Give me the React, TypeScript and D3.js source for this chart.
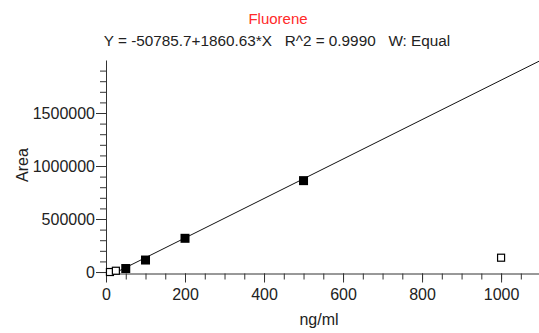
import React, { useEffect, useRef } from 'react';
import { select, scaleLinear, axisBottom, axisLeft, range, line } from 'd3';

// calibration levels (ng/ml) and measured peak areas
const concentrations = [10, 25, 50, 100, 200, 500, 1000];
const areas = [0, 12000, 33000, 113000, 318000, 862000, 135000];
const included = [false, false, true, true, true, true, false];

const intercept = -50785.7;
const slope = 1860.63;

const xMajorTicks = [0, 200, 400, 600, 800, 1000];
const xMinorTicks = range(0, 1100, 50);
const yMajorTicks = [0, 500000, 1000000, 1500000];
const yMinorTicks = range(0, 2000000, 100000);

const title = 'Fluorene';
const subtitle = 'Y = -50785.7+1860.63*X   R^2 = 0.9990   W: Equal';

function App() {
  const svgRef = useRef<SVGSVGElement>(null);
  const width = 539;
  const height = 333;
  const left = 106;
  const right = 539;
  const top = 60;
  const bottom = 273.5;

  useEffect(() => {
    const svg = select(svgRef.current);
    svg.selectAll('*').remove();

    const x = scaleLinear().domain([0, 1096]).range([left, right]);
    const y = scaleLinear().domain([-14000, 2000000]).range([bottom, top]);
    const axisColor = '#333';
    const font = 'Arial, "Liberation Sans", sans-serif';

    svg.append('defs').append('clipPath').attr('id', 'plot')
      .append('rect').attr('x', left).attr('y', top)
      .attr('width', right - left).attr('height', bottom - top);

    // x axis: minor then major
    svg.append('g').attr('transform', `translate(0,${bottom})`)
      .call(axisBottom(x).tickValues(xMinorTicks).tickSize(6).tickFormat(() => ''))
      .call(g => g.select('.domain').remove())
      .selectAll('line').attr('stroke', axisColor);
    const gx = svg.append('g').attr('transform', `translate(0,${bottom})`)
      .call(axisBottom(x).tickValues(xMajorTicks).tickSize(9).tickSizeOuter(0).tickPadding(6).tickFormat(d => String(d)));
    gx.select('.domain').attr('stroke', axisColor);
    gx.selectAll('line').attr('stroke', axisColor);
    gx.selectAll('text').attr('font-family', font).attr('font-size', 16).attr('fill', '#222');

    // y axis
    svg.append('g').attr('transform', `translate(${left},0)`)
      .call(axisLeft(y).tickValues(yMinorTicks).tickSize(6).tickFormat(() => ''))
      .call(g => g.select('.domain').remove())
      .selectAll('line').attr('stroke', axisColor);
    const gy = svg.append('g').attr('transform', `translate(${left},0)`)
      .call(axisLeft(y).tickValues(yMajorTicks).tickSize(10).tickSizeOuter(0).tickPadding(1).tickFormat(d => String(d)));
    gy.select('.domain').attr('stroke', axisColor);
    gy.selectAll('line').attr('stroke', axisColor);
    gy.selectAll('text').attr('font-family', font).attr('font-size', 16).attr('fill', '#222');

    // regression line
    const fit = line<number>().x(d => x(d)).y(d => y(intercept + slope * d));
    svg.append('path')
      .datum([0, 1096])
      .attr('d', fit)
      .attr('clip-path', 'url(#plot)')
      .attr('stroke', '#111')
      .attr('stroke-width', 1)
      .attr('fill', 'none');

    // points
    svg.selectAll('rect.pt')
      .data(concentrations)
      .enter().append('rect')
      .attr('class', 'pt')
      .attr('x', (d, i) => x(d) - (included[i] ? 4.5 : 3.5))
      .attr('y', (d, i) => y(areas[i]) - (included[i] ? 4.5 : 3.5))
      .attr('width', (d, i) => (included[i] ? 9 : 7))
      .attr('height', (d, i) => (included[i] ? 9 : 7))
      .attr('fill', (d, i) => (included[i] ? '#000' : '#fff'))
      .attr('stroke', '#000')
      .attr('stroke-width', (d, i) => (included[i] ? 0 : 1.2));

    // titles
    svg.append('text').text(title)
      .attr('x', 278).attr('y', 24).attr('text-anchor', 'middle')
      .attr('font-family', font).attr('font-size', 15).attr('fill', '#ff2a2a');
    svg.append('text').text(subtitle)
      .attr('x', 277).attr('y', 46).attr('text-anchor', 'middle')
      .style('white-space', 'pre')
      .attr('font-family', font).attr('font-size', 15.3).attr('fill', '#222');

    svg.append('text').text('Area')
      .attr('transform', 'translate(28,165) rotate(-90)')
      .attr('text-anchor', 'middle')
      .attr('font-family', font).attr('font-size', 16).attr('fill', '#222');
    svg.append('text').text('ng/ml')
      .attr('x', 319).attr('y', 325).attr('text-anchor', 'middle')
      .attr('font-family', font).attr('font-size', 16).attr('fill', '#222');
  }, []);

  return (
    <svg ref={svgRef} width={width} height={height}
      style={{ position: 'absolute', left: 0, top: 0, background: '#fff' }} />
  );
}

export default App;
